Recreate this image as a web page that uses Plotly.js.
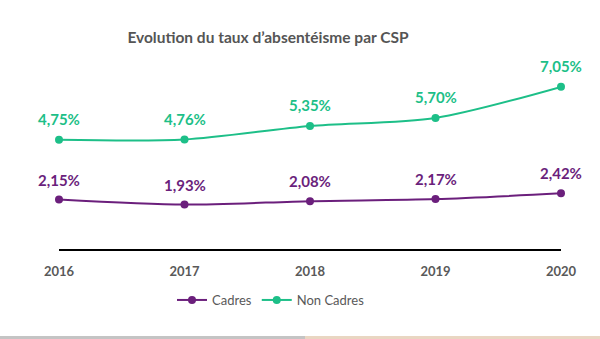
<!DOCTYPE html>
<html><head><meta charset="utf-8">
<script src="https://cdn.plot.ly/plotly-3.0.1.min.js"></script>
<style>html,body{margin:0;padding:0;background:#fff}</style>
</head><body><div id="chart" style="width:600px;height:339px"></div>
<script>
var years = [2016, 2017, 2018, 2019, 2020];
var cadres = [2.15, 1.93, 2.08, 2.17, 2.42];
var nonCadres = [4.75, 4.76, 5.35, 5.70, 7.05];
var tickLabels = ['2016', '2017', '2018', '2019', '2020'];
var purple = '#6b1f7c';
var green = '#1dbf88';
function fmt(v){ return v.toFixed(2).replace('.', ',') + '%'; }

var traces = [
  {x: years, y: cadres, name: 'Cadres', mode: 'lines+markers', type: 'scatter',
   line: {color: purple, width: 2, shape: 'spline', smoothing: 0.8},
   marker: {color: purple, size: 8}, cliponaxis: false},
  {x: years, y: nonCadres, name: 'Non Cadres', mode: 'lines+markers', type: 'scatter',
   line: {color: green, width: 2, shape: 'spline', smoothing: 0.8},
   marker: {color: green, size: 8}, cliponaxis: false}
];
var ann = [];
years.forEach(function(yr, i){
  ann.push({x: yr, y: cadres[i], text: fmt(cadres[i]), showarrow: false, yshift: 20,
    font: {family: 'Lato, "Open Sans", sans-serif', size: 15, color: purple, weight: 'bold'}});
  ann.push({x: yr, y: nonCadres[i], text: fmt(nonCadres[i]), showarrow: false, yshift: 21,
    font: {family: 'Lato, "Open Sans", sans-serif', size: 15, color: green, weight: 'bold'}});
});
var layout = {
  width: 600, height: 339,
  margin: {l: 59, r: 39, t: 65, b: 90},
  paper_bgcolor: '#fff', plot_bgcolor: '#fff',
  font: {family: 'Lato, "Open Sans", sans-serif', color: '#595959'},
  title: {text: 'Evolution du taux d\u2019absentéisme par CSP', x: 268/600, xanchor: 'center', y: 1 - 38/339, yanchor: 'middle',
    font: {size: 15.5, color: '#555555', weight: 'bold'}},
  xaxis: {range: [2016, 2020], tickvals: years, ticktext: tickLabels, showgrid: false, zeroline: false,
    showline: true, linecolor: '#000', linewidth: 1.5, ticks: '', ticklabelstandoff: 10,
    tickfont: {size: 13, color: '#595959', weight: 'bold'}, fixedrange: true},
  yaxis: {range: [0, 8], visible: false, showgrid: false, zeroline: false, fixedrange: true},
  showlegend: true,
  legend: {orientation: 'h', x: (271-59)/502, xanchor: 'center', y: (249-300)/184, yanchor: 'middle',
    font: {size: 13, color: '#595959'}, itemwidth: 30, tracegroupgap: 0},
  annotations: ann,
  shapes: [
    {type: 'rect', xref: 'paper', yref: 'paper', x0: -59/502, x1: 1 + 39/502, y0: -90/184, y1: -87/184,
     fillcolor: '#c4c4c4', line: {width: 0}, layer: 'above'},
    {type: 'rect', xref: 'paper', yref: 'paper', x0: (305-59)/502, x1: 1 + 39/502, y0: -90/184, y1: -87/184,
     fillcolor: '#e9d6c2', line: {width: 0}, layer: 'above'}
  ]
};
Plotly.newPlot('chart', traces, layout, {displayModeBar: false, staticPlot: true});
</script></body></html>
